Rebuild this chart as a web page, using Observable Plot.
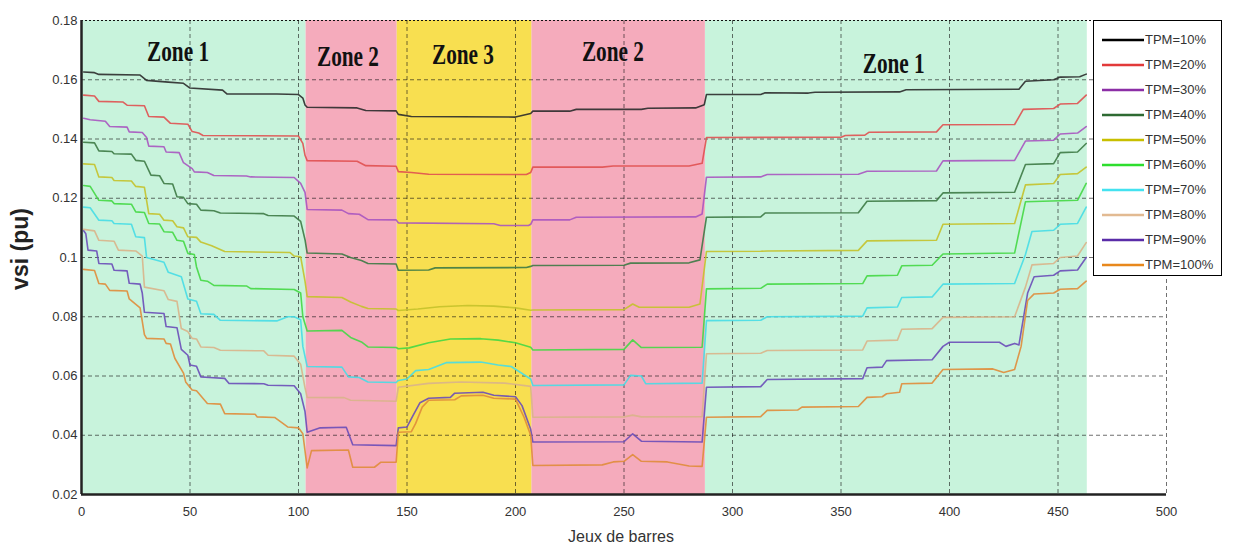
<!DOCTYPE html>
<html>
<head>
<meta charset="utf-8">
<script src="https://cdn.jsdelivr.net/npm/d3@7"></script>
<script src="https://cdn.jsdelivr.net/npm/@observablehq/plot@0.6"></script>
<style>
  html, body { margin: 0; padding: 0; background: #fff; }
  #wrap { position: relative; width: 1233px; height: 548px; overflow: hidden; }
  #legend { position: absolute; left: 1093px; top: 20px; width: 129px; height: 256px;
            border: 1px solid #000; background: #fff; box-sizing: border-box;
            font-family: "Liberation Sans", Arial, sans-serif; font-size: 13px; color: #333; }
  .lrow { position: absolute; left: 0; height: 16px; width: 128px; }
  .lrow svg { position: absolute; left: 8px; top: 0; }
  .lrow span { position: absolute; left: 51px; top: 0; line-height: 16px; white-space: nowrap; }
</style>
</head>
<body>
<div id="wrap"><div id="legend"></div></div>
<script>
// ---------- data ----------
const xTicks = [0, 50, 100, 150, 200, 250, 300, 350, 400, 450, 500];
const xTickLabels = ["0", "50", "100", "150", "200", "250", "300", "350", "400", "450", "500"];
const yTicks = [0.02, 0.04, 0.06, 0.08, 0.1, 0.12, 0.14, 0.16, 0.18];
const yTickLabels = ["0.02", "0.04", "0.06", "0.08", "0.1", "0.12", "0.14", "0.16", "0.18"];

const zoneStarts = [0, 103.5, 145.5, 207.5, 287.5];
const zoneEnds   = [103.5, 145.5, 207.5, 287.5, 463.5];
const zoneKinds  = [1, 2, 3, 2, 1];

const zoneLabels  = ["Zone 1", "Zone 2", "Zone 3", "Zone 2", "Zone 1"];
const zoneLabelX  = [44.5, 122.8, 175.8, 244.9, 374.3];
const zoneLabelY  = [0.1694, 0.1679, 0.1685, 0.1695, 0.1655];

const seriesNames = ["TPM=10%", "TPM=20%", "TPM=30%", "TPM=40%", "TPM=50%",
                     "TPM=60%", "TPM=70%", "TPM=80%", "TPM=90%", "TPM=100%"];

const tpm10 = [[1,0.1626],[6,0.1624],[8,0.1618],[27,0.1616],[30,0.1598],[40,0.1592],[47,0.1588],[50,0.1572],[65,0.1565],[67,0.1552],[90,0.1552],[100,0.1550],[102,0.1538],[103,0.1515],
  [104,0.1507],[127,0.1505],[131,0.1496],[145,0.1495],
  [146,0.1483],[152,0.1476],[200,0.1474],[207,0.1486],
  [208,0.1494],[225,0.1494],[228,0.1500],[258,0.1500],[261,0.1504],[283,0.1505],[287,0.1516],
  [288,0.1550],[313,0.1550],[315,0.1556],[335,0.1555],[338,0.1558],[377,0.1559],[380,0.1566],[432,0.1568],[435,0.1595],[448,0.1600],[451,0.1609],[460,0.1610],[463,0.1619]];

const tpm20 = [[1,0.1548],[6,0.1545],[8,0.1527],[19,0.1525],[21,0.1514],[29,0.1512],[31,0.1476],[38,0.1474],[41,0.1453],[49,0.1450],[51,0.1425],[54,0.1420],[56,0.1412],[100,0.1410],[102,0.1385],[103,0.1345],
  [104,0.1327],[127,0.1325],[131,0.1310],[145,0.1308],
  [146,0.1290],[152,0.1287],[160,0.1281],[205,0.1280],[207,0.1287],
  [208,0.1305],[240,0.1305],[245,0.1309],[280,0.1309],[286,0.1318],
  [288,0.1405],[350,0.1406],[352,0.1412],[361,0.1413],[363,0.1423],[394,0.1424],[397,0.1448],[430,0.1449],[434,0.1500],[448,0.1503],[451,0.1518],[459,0.1520],[463,0.1548]];

const tpm30 = [[1,0.1470],[4,0.1465],[11,0.1460],[13,0.1442],[21,0.1440],[22,0.1424],[28,0.1422],[30,0.1405],[31,0.1376],[38,0.1374],[39,0.1356],[45,0.1354],[47,0.1320],[51,0.1300],[52,0.1289],[58,0.1287],[61,0.1277],[76,0.1275],[78,0.1272],[98,0.1270],[101,0.1250],[103,0.1220],
  [104,0.1162],[120,0.1160],[123,0.1148],[128,0.1146],[132,0.1128],[145,0.1127],
  [146,0.1117],[190,0.1114],[193,0.1108],[206,0.1108],[207,0.1112],
  [208,0.1127],[225,0.1127],[228,0.1136],[283,0.1137],[286,0.1147],
  [288,0.1271],[313,0.1272],[316,0.1280],[358,0.1281],[362,0.1291],[394,0.1292],[397,0.1326],[430,0.1328],[435,0.1393],[448,0.1396],[451,0.1417],[459,0.1420],[463,0.1442]];

const tpm40 = [[1,0.1389],[6,0.1387],[8,0.1360],[14,0.1358],[15,0.1350],[23,0.1349],[25,0.1328],[29,0.1325],[32,0.1278],[36,0.1276],[38,0.1250],[42,0.1248],[44,0.1205],[47,0.1203],[49,0.1182],[53,0.1180],[55,0.1160],[61,0.1158],[64,0.1150],[84,0.1148],[86,0.1142],[98,0.1140],[101,0.1122],[103,0.1060],
  [104,0.1015],[120,0.1012],[124,0.1000],[129,0.0990],[132,0.0980],[145,0.0978],
  [146,0.0957],[160,0.0958],[163,0.0965],[205,0.0966],[207,0.0970],
  [208,0.0973],[250,0.0974],[253,0.0981],[280,0.0982],[285,0.0992],
  [288,0.1136],[313,0.1137],[315,0.1150],[358,0.1151],[362,0.1190],[394,0.1192],[397,0.1218],[430,0.1220],[435,0.1314],[448,0.1317],[451,0.1354],[459,0.1356],[463,0.1385]];

const tpm50 = [[1,0.1316],[6,0.1314],[8,0.1272],[14,0.1270],[15,0.1260],[23,0.1258],[25,0.1240],[29,0.1237],[31,0.1148],[36,0.1146],[38,0.1126],[42,0.1124],[44,0.1104],[47,0.1100],[49,0.1070],[53,0.1068],[55,0.1052],[60,0.1040],[66,0.1020],[96,0.1017],[98,0.1005],[101,0.1002],[103,0.0920],
  [104,0.0868],[120,0.0865],[124,0.0850],[129,0.0835],[132,0.0828],[145,0.0826],
  [146,0.0821],[155,0.0826],[165,0.0834],[178,0.0838],[190,0.0836],[200,0.0830],[207,0.0822],
  [208,0.0823],[250,0.0824],[254,0.0843],[257,0.0832],[280,0.0832],[285,0.0843],
  [288,0.1020],[313,0.1021],[316,0.1022],[358,0.1024],[362,0.1056],[394,0.1058],[397,0.1112],[430,0.1115],[435,0.1245],[448,0.1250],[451,0.1280],[459,0.1283],[463,0.1305]];

const tpm60 = [[1,0.1243],[4,0.1240],[8,0.1193],[14,0.1191],[15,0.1182],[23,0.1180],[25,0.1154],[29,0.1152],[31,0.1115],[36,0.1113],[38,0.1087],[42,0.1085],[44,0.1058],[47,0.1055],[49,0.1014],[52,0.1010],[53,0.0968],[55,0.0923],[58,0.0920],[61,0.0906],[76,0.0904],[78,0.0895],[98,0.0892],[101,0.0880],[102,0.0800],
  [104,0.0752],[120,0.0754],[124,0.0730],[129,0.0715],[132,0.0698],[145,0.0696],
  [146,0.0692],[151,0.0695],[160,0.0712],[170,0.0725],[184,0.0726],[192,0.0721],[200,0.0712],[207,0.0697],
  [208,0.0688],[250,0.0690],[254,0.0722],[258,0.0696],[286,0.0697],
  [288,0.0894],[313,0.0896],[316,0.0910],[360,0.0912],[362,0.0938],[376,0.0940],[378,0.0972],[392,0.0974],[397,0.1012],[430,0.1015],[435,0.1188],[459,0.1193],[463,0.1250]];

const tpm70 = [[1,0.1170],[4,0.1168],[8,0.1126],[14,0.1124],[15,0.1115],[23,0.1112],[25,0.1070],[29,0.1067],[30,0.1000],[38,0.0984],[40,0.0950],[46,0.0935],[49,0.0860],[53,0.0852],[55,0.0810],[61,0.0808],[64,0.0788],[90,0.0786],[95,0.0800],[98,0.0800],[101,0.0790],[102,0.0700],
  [104,0.0632],[120,0.0630],[123,0.0597],[128,0.0595],[132,0.0580],[145,0.0578],
  [146,0.0585],[150,0.0590],[154,0.0618],[160,0.0622],[168,0.0645],[184,0.0647],[192,0.0637],[198,0.0632],[207,0.0590],
  [208,0.0568],[250,0.0570],[253,0.0602],[258,0.0600],[260,0.0574],[286,0.0576],
  [288,0.0787],[313,0.0788],[316,0.0800],[360,0.0802],[362,0.0830],[376,0.0833],[378,0.0865],[392,0.0867],[397,0.0910],[430,0.0912],[435,0.1010],[438,0.1088],[448,0.1092],[451,0.1112],[459,0.1115],[463,0.1170]];

const tpm80 = [[1,0.1095],[6,0.1090],[8,0.1058],[15,0.1055],[17,0.1025],[25,0.1022],[28,0.1005],[29,0.0900],[38,0.0888],[40,0.0858],[44,0.0852],[46,0.0760],[49,0.0750],[51,0.0727],[53,0.0725],[55,0.0698],[61,0.0696],[64,0.0687],[84,0.0685],[86,0.0670],[98,0.0667],[101,0.0640],[103,0.0560],
  [104,0.0528],[121,0.0527],[124,0.0518],[145,0.0515],
  [146,0.0562],[160,0.0575],[175,0.0580],[195,0.0576],[207,0.0565],
  [208,0.0461],[250,0.0462],[254,0.0468],[258,0.0462],[286,0.0463],
  [288,0.0675],[313,0.0677],[316,0.0686],[360,0.0688],[362,0.0718],[376,0.0721],[378,0.0758],[392,0.0760],[397,0.0798],[430,0.0800],[435,0.0900],[438,0.0975],[448,0.0980],[451,0.1000],[459,0.1005],[463,0.1050]];

const tpm90 = [[1,0.1090],[2,0.1080],[3,0.1025],[7,0.1022],[8,0.0980],[14,0.0978],[15,0.0957],[21,0.0955],[22,0.0913],[27,0.0910],[28,0.0880],[29,0.0815],[38,0.0811],[39,0.0767],[44,0.0763],[46,0.0690],[49,0.0670],[50,0.0637],[53,0.0633],[55,0.0597],[59,0.0595],[66,0.0592],[68,0.0575],[84,0.0574],[86,0.0569],[98,0.0567],[101,0.0540],[103,0.0480],
  [104,0.0410],[110,0.0425],[122,0.0427],[125,0.0368],[145,0.0365],
  [146,0.0425],[150,0.0428],[153,0.0470],[156,0.0510],[160,0.0525],[170,0.0528],[172,0.0542],[185,0.0545],[190,0.0535],[200,0.0530],[203,0.0500],[207,0.0420],
  [208,0.0377],[250,0.0378],[254,0.0405],[258,0.0380],[286,0.0377],
  [288,0.0562],[313,0.0564],[316,0.0588],[360,0.0591],[362,0.0628],[369,0.0630],[371,0.0652],[392,0.0655],[397,0.0700],[400,0.0714],[423,0.0714],[426,0.0700],[430,0.0710],[432,0.0705],[436,0.0880],[439,0.0935],[448,0.0940],[451,0.0955],[459,0.0958],[463,0.1000]];

const tpm100 = [[1,0.0960],[6,0.0956],[8,0.0912],[11,0.0910],[13,0.0889],[21,0.0887],[22,0.0860],[27,0.0830],[29,0.0740],[30,0.0727],[38,0.0725],[39,0.0710],[41,0.0708],[43,0.0660],[47,0.0610],[48,0.0580],[51,0.0553],[53,0.0550],[58,0.0507],[64,0.0505],[66,0.0473],[80,0.0471],[81,0.0462],[89,0.0460],[95,0.0428],[100,0.0425],[102,0.0405],
  [104,0.0290],[106,0.0348],[123,0.0350],[125,0.0292],[135,0.0292],[138,0.0309],[145,0.0309],
  [146,0.0410],[152,0.0412],[154,0.0440],[157,0.0495],[160,0.0518],[172,0.0520],[175,0.0533],[185,0.0535],[190,0.0525],[200,0.0522],[204,0.0460],[207,0.0400],
  [208,0.0298],[240,0.0300],[245,0.0310],[250,0.0312],[254,0.0335],[258,0.0312],[270,0.0310],[280,0.0296],[286,0.0295],
  [288,0.0461],[313,0.0463],[316,0.0484],[330,0.0485],[332,0.0495],[358,0.0497],[362,0.0528],[369,0.0530],[371,0.0540],[377,0.0545],[378,0.0574],[392,0.0576],[397,0.0622],[420,0.0624],[425,0.0612],[430,0.0622],[433,0.0700],[436,0.0855],[439,0.0877],[448,0.0880],[451,0.0893],[459,0.0895],[463,0.0920]];

// ---------- styles ----------
const seriesData = [tpm10, tpm20, tpm30, tpm40, tpm50, tpm60, tpm70, tpm80, tpm90, tpm100];
const lineColors = ["#2b2b2b", "#e05050", "#a855c0", "#3d7a45", "#c4c22a",
                    "#44d844", "#46dde6", "#d9b48a", "#6a4cb8", "#e08c3a"];
const legendColors = ["#000000", "#e23a3a", "#8c2ea6", "#2e6a32", "#c8bf00",
                      "#2ede2e", "#44e2f0", "#e2ba92", "#5a2ca8", "#e8881c"];
const zoneFill = {1: "#c8f3dc", 2: "#f5abbc", 3: "#f8df50"};

const yMin = yTicks[0], yMax = yTicks[yTicks.length - 1];
const zoneTable = zoneStarts.map((s, i) => ({start: s, end: zoneEnds[i], kind: zoneKinds[i]}));
const labelTable = zoneLabels.map((t, i) => ({text: t, x: zoneLabelX[i], y: zoneLabelY[i]}));

const marks = [];
[1, 2, 3].forEach(k => {
  marks.push(Plot.rect(zoneTable.filter(d => d.kind === k),
    {x1: "start", x2: "end", y1: yMin, y2: yMax, fill: zoneFill[k]}));
});
marks.push(Plot.ruleX(xTicks.filter(d => d > xTicks[0]),
  {stroke: "#111", strokeOpacity: 0.6, strokeDasharray: "4,3", strokeWidth: 1}));
marks.push(Plot.ruleY(yTicks.filter(d => d > yMin && d < yMax),
  {stroke: "#111", strokeOpacity: 0.6, strokeDasharray: "4,3", strokeWidth: 1}));
marks.push(Plot.ruleY([yMax], {stroke: "#111", strokeDasharray: "2,2", strokeWidth: 1.2}));
seriesData.forEach((s, i) => {
  marks.push(Plot.line(s, {x: d => d[0], y: d => d[1], stroke: lineColors[i],
    strokeWidth: 1.6, strokeOpacity: 0.9}));
});
marks.push(Plot.text(labelTable, {x: "x", y: "y", text: "text",
  fontFamily: "'Liberation Serif', 'Times New Roman', serif", fontWeight: "bold",
  fontSize: 29, fill: "#111"}));
marks.push(Plot.ruleX([xTicks[0]], {stroke: "#222", strokeWidth: 2.5}));
marks.push(Plot.ruleY([yMin], {stroke: "#222", strokeWidth: 2.5}));

const chart = Plot.plot({
  width: 1233,
  height: 548,
  marginTop: 20,
  marginBottom: 54,
  marginLeft: 81,
  marginRight: 67,
  style: {fontFamily: "'Liberation Sans', Arial, sans-serif", fontSize: "13px", color: "#333", background: "transparent"},
  x: {domain: [0, 500], ticks: xTicks, tickFormat: d => xTickLabels[xTicks.indexOf(d)], tickSize: 0, tickPadding: 12, label: null},
  y: {domain: [yMin, yMax], ticks: yTicks, tickFormat: d => yTickLabels[yTicks.indexOf(d)], tickSize: 0, tickPadding: 4, label: null},
  marks
});

const wrap = document.getElementById("wrap");
wrap.insertBefore(chart, wrap.firstChild);

const svg = d3.select(chart);
// compress zone labels like the original condensed serif face
svg.selectAll("text").filter(function () { return /^Zone/.test(this.textContent); })
  .attr("textLength", 62).attr("lengthAdjust", "spacingAndGlyphs");

svg.append("text")
  .attr("transform", "translate(28,249) rotate(-90)")
  .attr("text-anchor", "middle")
  .attr("font-family", "'Liberation Sans', Arial, sans-serif")
  .attr("font-weight", "bold")
  .attr("font-size", 23)
  .attr("fill", "#222")
  .text("vsi (pu)");

svg.append("text")
  .attr("x", 621).attr("y", 542)
  .attr("text-anchor", "middle")
  .attr("font-family", "'Liberation Sans', Arial, sans-serif")
  .attr("font-size", 16)
  .attr("fill", "#333")
  .text("Jeux de barres");

// legend
const legend = document.getElementById("legend");
seriesNames.forEach((name, i) => {
  const row = document.createElement("div");
  row.className = "lrow";
  row.style.top = (11 + i * 25) + "px";
  row.innerHTML = `<svg width="42" height="16"><line x1="0" y1="8" x2="42" y2="8" stroke="${legendColors[i]}" stroke-width="2.5"/></svg><span>${name}</span>`;
  legend.appendChild(row);
});
</script>
</body>
</html>
